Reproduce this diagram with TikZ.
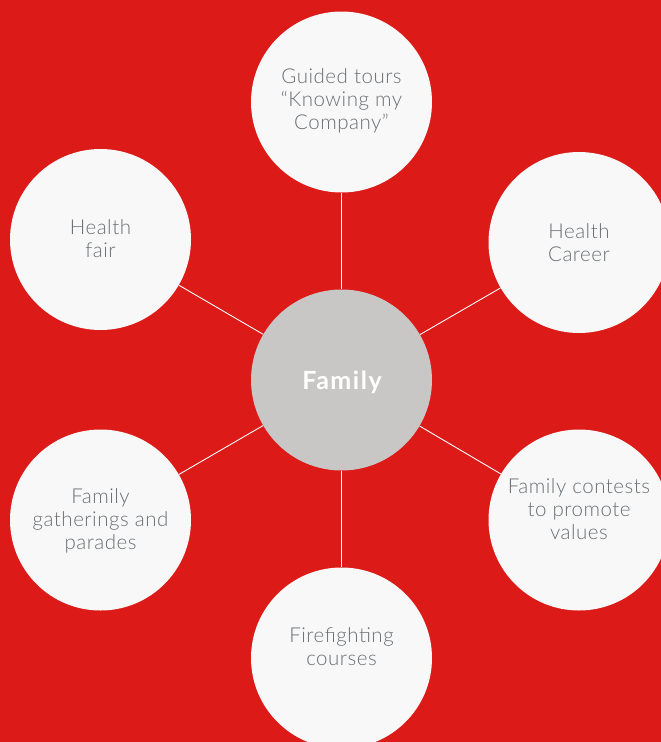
\documentclass[tikz,border=0pt]{standalone}
\usepackage{fontspec}
\setmainfont{Lato Light}[BoldFont={Lato Bold}]
\begin{document}
\definecolor{bgred}{HTML}{DC1A17}
\definecolor{bubble}{HTML}{F8F8F8}
\definecolor{hub}{HTML}{C8C7C6}
\definecolor{ink}{HTML}{6A6F74}
\begin{tikzpicture}[x=1pt,y=-1pt,
  bubblec/.style={circle,fill=bubble,minimum size=181pt,inner sep=0pt},
  hubc/.style={circle,fill=hub,minimum size=181pt,inner sep=0pt},
  lbl/.style={align=center,text=ink,font=\fontsize{20.5}{23}\selectfont\addfontfeatures{LetterSpace=2.5},inner sep=0pt},
  spoke/.style={draw=white,line width=0.9pt}]
  \fill[bgred] (0,0) rectangle (661,742);
  \useasboundingbox (0,0) rectangle (661,742);
  % circles
  \node[hubc] (hub) at (341.5,380) {};
  \node[bubblec] (tours) at (341.5,102) {};
  \node[bubblec] (fair) at (100.5,239.5) {};
  \node[bubblec] (career) at (579,242.5) {};
  \node[bubblec] (gather) at (100.5,520) {};
  \node[bubblec] (contest) at (579,520) {};
  \node[bubblec] (fire) at (341.5,658) {};
  % spokes
  \foreach \t in {tours,fair,career,gather,contest,fire}
    \draw[spoke] (hub) -- (\t);
  % labels
  \node[font=\bfseries\fontsize{25}{29}\selectfont\addfontfeatures{LetterSpace=6},text=white] (hubtxt) at (342,382) {Family};
  \node[lbl] (tourstxt) at (341.5,101) {Guided tours\\“Knowing my\\Company”};
  \node[lbl] (fairtxt) at (100.5,238.5) {Health\\fair};
  \node[lbl] (careertxt) at (579,242.5) {Health\\Career};
  \node[lbl] (gathertxt) at (100.5,521) {Family\\gatherings and\\parades};
  \node[lbl] (contesttxt) at (579,509) {Family contests\\to promote\\values};
  \node[lbl] (firetxt) at (341.5,646.5) {Firefighting\\courses};
\end{tikzpicture}
\end{document}
